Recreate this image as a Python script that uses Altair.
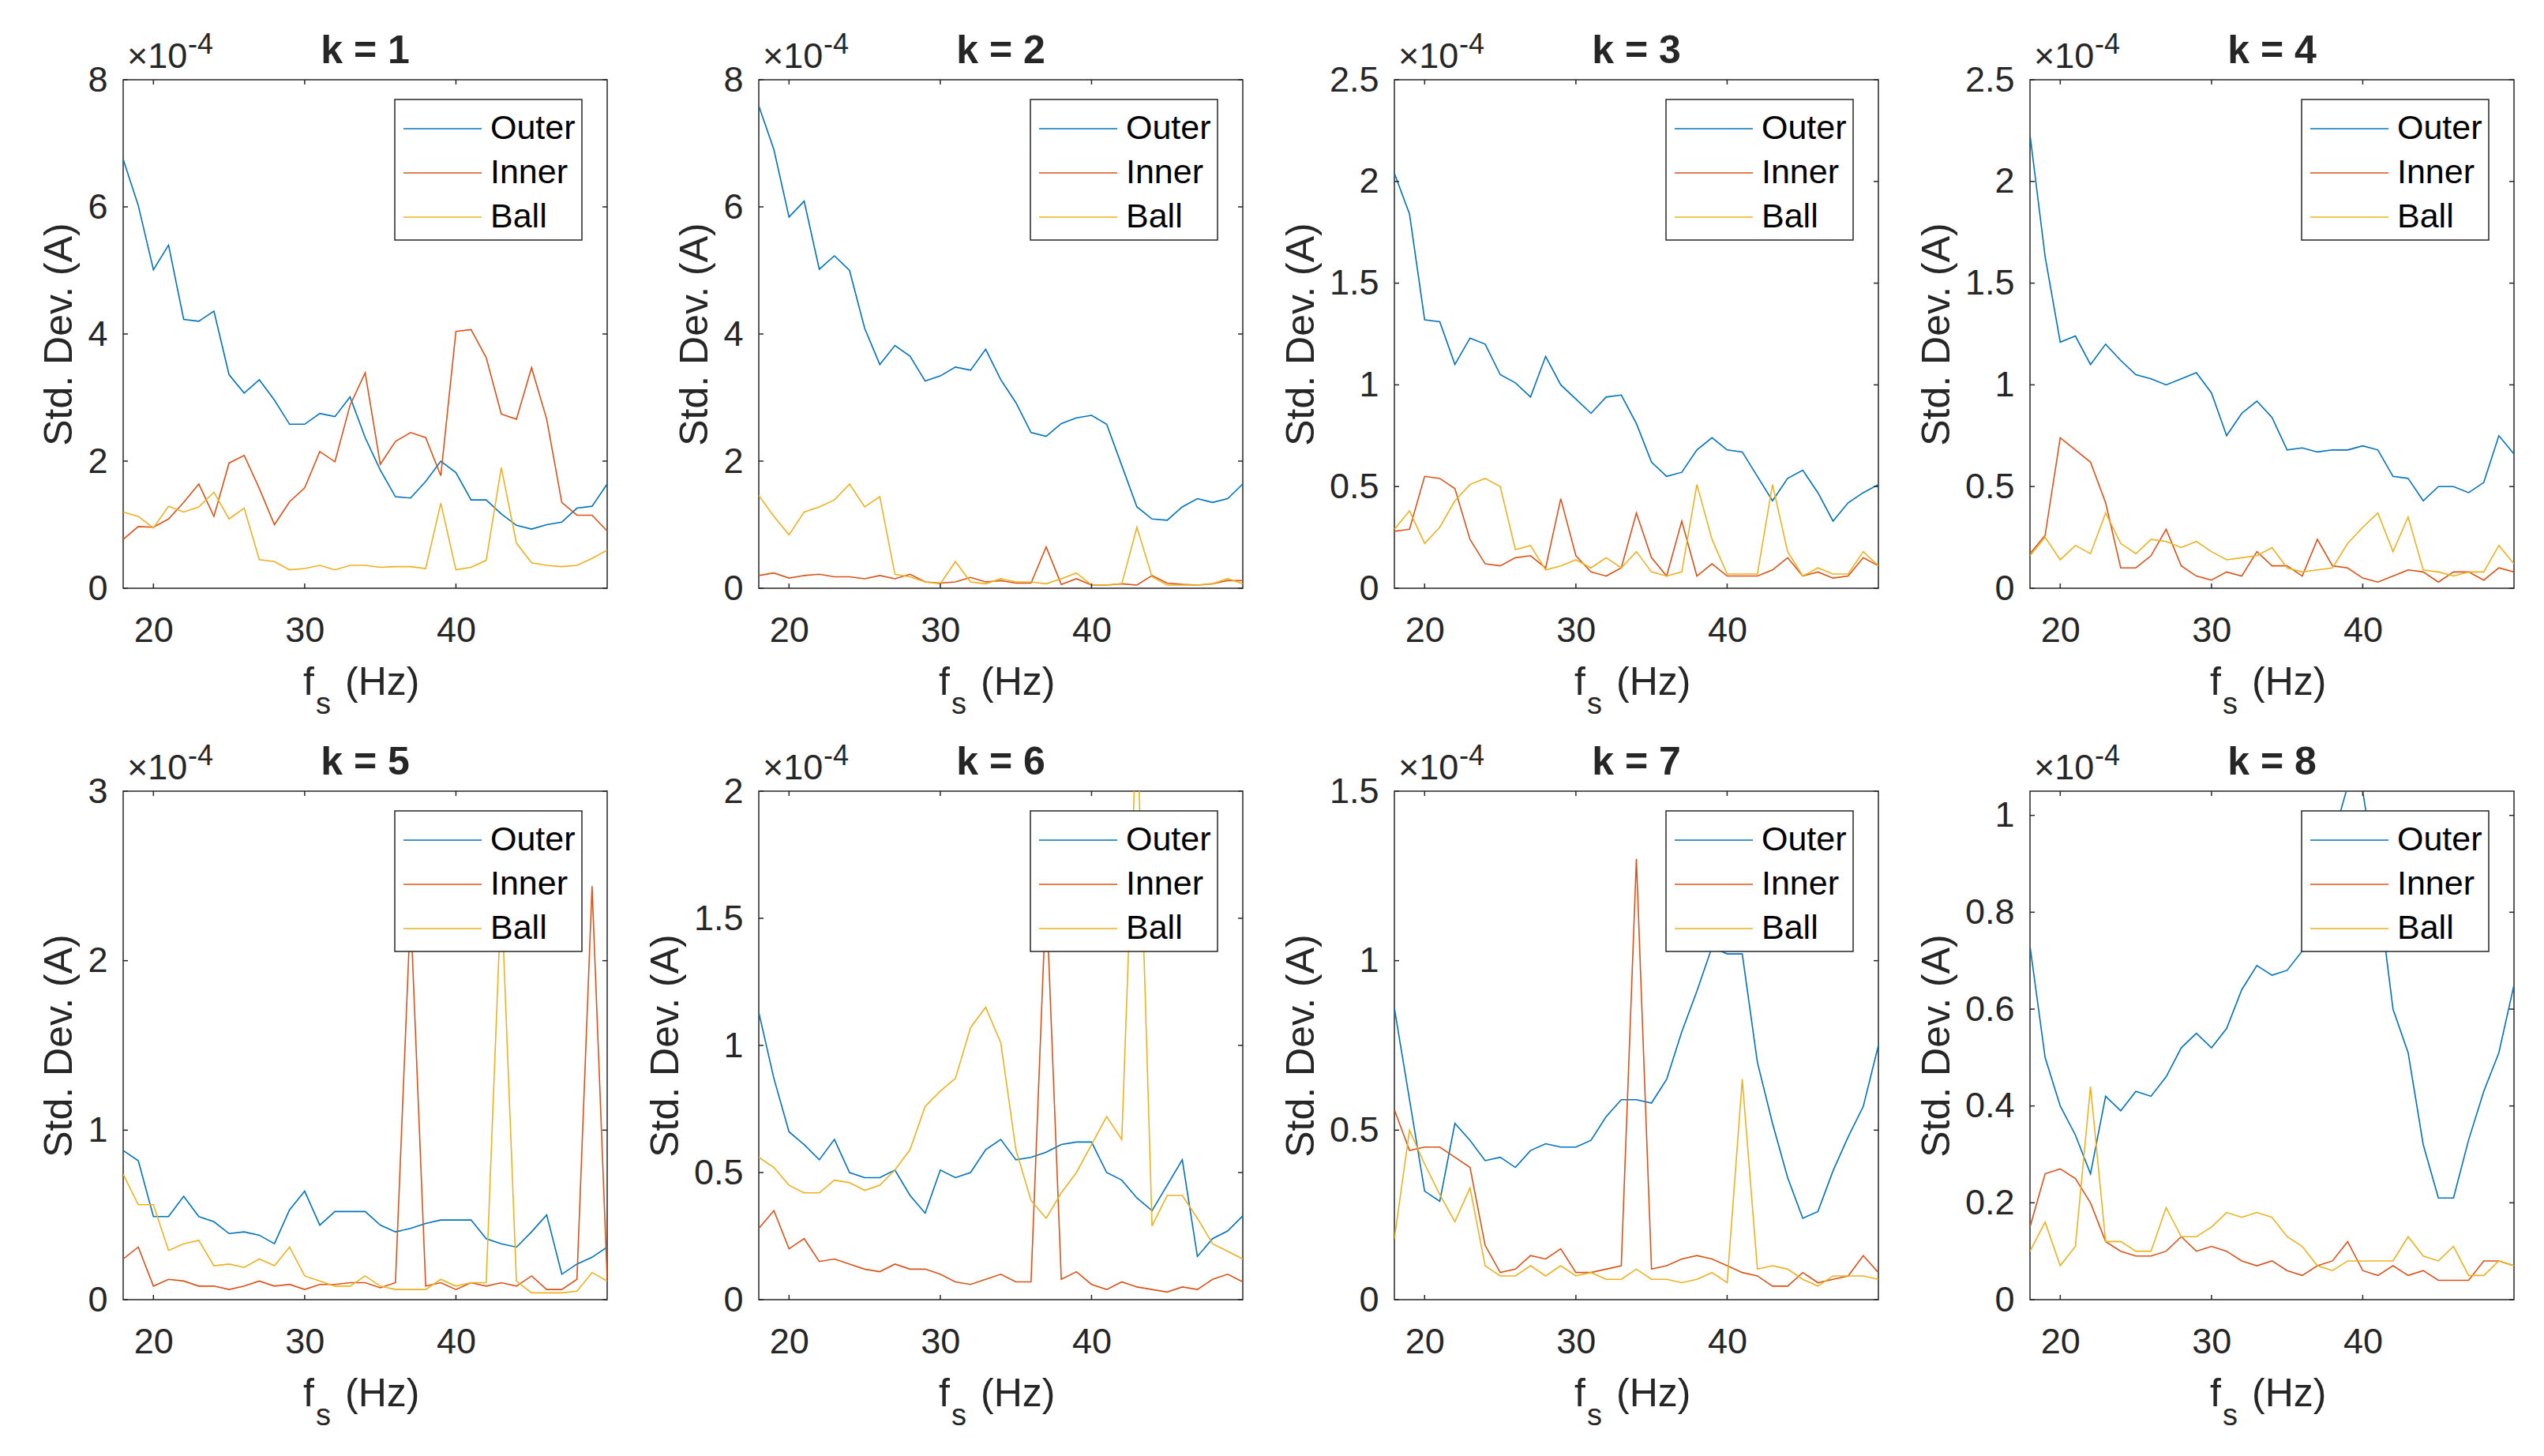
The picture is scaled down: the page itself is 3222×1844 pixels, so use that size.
import altair as alt
import pandas as pd

# shaft frequency axis (Hz)
fs_hz = list(range(18, 51))
series = ['Outer', 'Inner', 'Ball']
colors = ['#0072BD', '#D95319', '#EDB120']
x_ticks = [20, 30, 40]

# values in units of 1e-4 A
outer_1 = [6.75, 6.02, 5.01, 5.40, 4.23, 4.20, 4.36, 3.36, 3.07, 3.28, 2.96, 2.58, 2.58, 2.75, 2.70, 3.01, 2.37,
           1.86, 1.44, 1.42, 1.68, 2.00, 1.82, 1.39, 1.39, 1.17, 0.99, 0.93, 1.00, 1.04, 1.26, 1.29, 1.64]
inner_1 = [0.77, 0.97, 0.96, 1.09, 1.35, 1.64, 1.13, 1.97, 2.09, 1.57, 1.00, 1.36, 1.58, 2.15, 1.99, 2.88, 3.39,
           1.95, 2.31, 2.45, 2.37, 1.77, 4.04, 4.07, 3.63, 2.74, 2.66, 3.47, 2.66, 1.35, 1.15, 1.15, 0.90]
ball_1 = [1.20, 1.13, 0.95, 1.29, 1.20, 1.28, 1.51, 1.09, 1.26, 0.45, 0.42, 0.29, 0.31, 0.36, 0.29, 0.36, 0.36,
          0.33, 0.34, 0.34, 0.31, 1.34, 0.29, 0.33, 0.44, 1.90, 0.71, 0.40, 0.36, 0.34, 0.36, 0.47, 0.60]

outer_2 = [7.59, 6.90, 5.84, 6.09, 5.02, 5.23, 5.00, 4.09, 3.52, 3.82, 3.65, 3.26, 3.34, 3.48, 3.43, 3.76, 3.28,
           2.92, 2.45, 2.39, 2.59, 2.68, 2.72, 2.58, 1.93, 1.28, 1.09, 1.07, 1.28, 1.41, 1.35, 1.41, 1.64]
inner_2 = [0.20, 0.24, 0.16, 0.20, 0.22, 0.18, 0.18, 0.15, 0.20, 0.15, 0.22, 0.10, 0.08, 0.10, 0.17, 0.10, 0.12,
           0.08, 0.08, 0.65, 0.06, 0.15, 0.05, 0.05, 0.07, 0.05, 0.20, 0.08, 0.06, 0.05, 0.07, 0.12, 0.12]
ball_2 = [1.46, 1.13, 0.84, 1.20, 1.28, 1.39, 1.64, 1.28, 1.44, 0.22, 0.18, 0.10, 0.07, 0.42, 0.10, 0.07, 0.15,
          0.10, 0.10, 0.07, 0.15, 0.24, 0.05, 0.05, 0.07, 0.96, 0.18, 0.05, 0.05, 0.05, 0.07, 0.15, 0.07]

outer_3 = [2.04, 1.84, 1.32, 1.31, 1.10, 1.23, 1.20, 1.05, 1.01, 0.94, 1.14, 1.00, 0.93, 0.86, 0.94, 0.95, 0.81,
           0.62, 0.55, 0.57, 0.68, 0.74, 0.68, 0.67, 0.55, 0.43, 0.54, 0.58, 0.47, 0.33, 0.42, 0.47, 0.51]
inner_3 = [0.28, 0.29, 0.55, 0.54, 0.49, 0.24, 0.12, 0.11, 0.15, 0.16, 0.10, 0.44, 0.16, 0.08, 0.06, 0.10, 0.37,
           0.15, 0.06, 0.33, 0.06, 0.12, 0.06, 0.06, 0.06, 0.09, 0.15, 0.06, 0.08, 0.05, 0.06, 0.15, 0.11]
ball_3 = [0.29, 0.38, 0.22, 0.30, 0.43, 0.51, 0.54, 0.50, 0.19, 0.21, 0.09, 0.11, 0.14, 0.10, 0.15, 0.10, 0.18,
          0.08, 0.06, 0.08, 0.51, 0.24, 0.07, 0.07, 0.07, 0.51, 0.18, 0.06, 0.10, 0.07, 0.07, 0.18, 0.11]

outer_4 = [2.23, 1.63, 1.21, 1.24, 1.10, 1.20, 1.12, 1.05, 1.03, 1.00, 1.03, 1.06, 0.96, 0.75, 0.86, 0.92, 0.84,
           0.68, 0.69, 0.67, 0.68, 0.68, 0.70, 0.68, 0.55, 0.54, 0.43, 0.50, 0.50, 0.47, 0.52, 0.75, 0.66]
inner_4 = [0.17, 0.26, 0.74, 0.68, 0.62, 0.42, 0.10, 0.10, 0.16, 0.29, 0.11, 0.06, 0.04, 0.08, 0.06, 0.18, 0.11,
           0.11, 0.06, 0.24, 0.11, 0.10, 0.05, 0.03, 0.06, 0.09, 0.08, 0.03, 0.08, 0.08, 0.04, 0.10, 0.08]
ball_4 = [0.16, 0.25, 0.14, 0.21, 0.17, 0.37, 0.22, 0.17, 0.24, 0.23, 0.20, 0.23, 0.18, 0.14, 0.15, 0.16, 0.20,
          0.10, 0.08, 0.09, 0.10, 0.22, 0.30, 0.37, 0.18, 0.35, 0.09, 0.08, 0.06, 0.08, 0.08, 0.21, 0.12]

outer_5 = [0.88, 0.82, 0.49, 0.49, 0.61, 0.49, 0.46, 0.39, 0.40, 0.38, 0.33, 0.53, 0.64, 0.44, 0.52, 0.52, 0.52,
           0.44, 0.40, 0.42, 0.45, 0.47, 0.47, 0.47, 0.36, 0.33, 0.31, 0.40, 0.50, 0.15, 0.21, 0.25, 0.31]
inner_5 = [0.24, 0.31, 0.08, 0.12, 0.11, 0.08, 0.08, 0.06, 0.08, 0.11, 0.08, 0.09, 0.06, 0.09, 0.09, 0.10, 0.10,
           0.07, 0.10, 2.30, 0.08, 0.10, 0.06, 0.10, 0.08, 0.10, 0.08, 0.14, 0.06, 0.06, 0.12, 2.44, 0.12]
ball_5 = [0.74, 0.56, 0.56, 0.29, 0.33, 0.35, 0.20, 0.21, 0.19, 0.24, 0.20, 0.31, 0.14, 0.11, 0.08, 0.08, 0.14,
          0.08, 0.06, 0.06, 0.06, 0.12, 0.08, 0.10, 0.10, 2.40, 0.11, 0.04, 0.04, 0.04, 0.05, 0.16, 0.11]

outer_6 = [1.13, 0.87, 0.66, 0.61, 0.55, 0.63, 0.50, 0.48, 0.48, 0.51, 0.41, 0.34, 0.51, 0.48, 0.50, 0.59, 0.63,
           0.55, 0.56, 0.58, 0.61, 0.62, 0.62, 0.50, 0.47, 0.40, 0.35, 0.45, 0.55, 0.17, 0.24, 0.27, 0.33]
inner_6 = [0.28, 0.35, 0.20, 0.24, 0.15, 0.16, 0.14, 0.12, 0.11, 0.14, 0.12, 0.12, 0.10, 0.07, 0.06, 0.08, 0.10,
           0.07, 0.07, 1.60, 0.08, 0.11, 0.06, 0.04, 0.07, 0.05, 0.04, 0.03, 0.05, 0.04, 0.08, 0.10, 0.07]
ball_6 = [0.56, 0.52, 0.45, 0.42, 0.42, 0.47, 0.46, 0.43, 0.45, 0.51, 0.59, 0.76, 0.82, 0.87, 1.07, 1.15, 1.01,
          0.59, 0.39, 0.32, 0.42, 0.50, 0.61, 0.72, 0.63, 2.30, 0.29, 0.41, 0.41, 0.32, 0.22, 0.19, 0.16]

outer_7 = [0.86, 0.59, 0.32, 0.29, 0.52, 0.47, 0.41, 0.42, 0.39, 0.44, 0.46, 0.45, 0.45, 0.47, 0.54, 0.59, 0.59,
           0.58, 0.65, 0.79, 0.91, 1.04, 1.02, 1.02, 0.70, 0.52, 0.36, 0.24, 0.26, 0.38, 0.48, 0.57, 0.75]
inner_7 = [0.56, 0.44, 0.45, 0.45, 0.42, 0.39, 0.16, 0.08, 0.09, 0.13, 0.12, 0.15, 0.08, 0.08, 0.09, 0.10, 1.30,
           0.09, 0.10, 0.12, 0.13, 0.12, 0.10, 0.08, 0.07, 0.04, 0.04, 0.08, 0.05, 0.06, 0.07, 0.13, 0.08]
ball_7 = [0.18, 0.50, 0.40, 0.31, 0.23, 0.33, 0.10, 0.07, 0.07, 0.10, 0.07, 0.10, 0.07, 0.08, 0.06, 0.06, 0.09,
          0.06, 0.06, 0.05, 0.06, 0.08, 0.05, 0.65, 0.09, 0.10, 0.09, 0.06, 0.04, 0.07, 0.07, 0.07, 0.06]

outer_8 = [0.73, 0.50, 0.40, 0.34, 0.26, 0.42, 0.39, 0.43, 0.42, 0.46, 0.52, 0.55, 0.52, 0.56, 0.64, 0.69, 0.67,
           0.68, 0.72, 0.82, 0.95, 1.06, 1.05, 0.85, 0.60, 0.51, 0.32, 0.21, 0.21, 0.33, 0.43, 0.51, 0.65]
inner_8 = [0.15, 0.26, 0.27, 0.25, 0.20, 0.12, 0.10, 0.09, 0.09, 0.10, 0.13, 0.10, 0.11, 0.10, 0.08, 0.07, 0.08,
           0.06, 0.05, 0.07, 0.08, 0.12, 0.06, 0.05, 0.07, 0.05, 0.06, 0.04, 0.04, 0.04, 0.08, 0.08, 0.07]
ball_8 = [0.10, 0.16, 0.07, 0.11, 0.44, 0.12, 0.12, 0.10, 0.10, 0.19, 0.13, 0.13, 0.15, 0.18, 0.17, 0.18, 0.17,
          0.13, 0.11, 0.07, 0.06, 0.08, 0.08, 0.08, 0.08, 0.13, 0.09, 0.08, 0.11, 0.05, 0.05, 0.08, 0.07]

y_tops = [8, 8, 2.5, 2.5, 3, 2, 1.5, 1.05]
y_ticks = [
    [0, 2, 4, 6, 8],
    [0, 2, 4, 6, 8],
    [0, 0.5, 1, 1.5, 2, 2.5],
    [0, 0.5, 1, 1.5, 2, 2.5],
    [0, 1, 2, 3],
    [0, 0.5, 1, 1.5, 2],
    [0, 0.5, 1, 1.5],
    [0, 0.2, 0.4, 0.6, 0.8, 1],
]
all_outer = [outer_1, outer_2, outer_3, outer_4, outer_5, outer_6, outer_7, outer_8]
all_inner = [inner_1, inner_2, inner_3, inner_4, inner_5, inner_6, inner_7, inner_8]
all_ball = [ball_1, ball_2, ball_3, ball_4, ball_5, ball_6, ball_7, ball_8]

W, H = 613, 644
TICK = 6
INK = '#262626'
FONT = 'Liberation Sans'
one_row = pd.DataFrame({'a': [0]})


def label(text, x, y, size, align='left', weight='normal'):
    return alt.Chart(one_row).mark_text(
        text=text, font=FONT, fontSize=size, fontWeight=weight, color=INK,
        align=align, baseline='alphabetic'
    ).encode(x=alt.value(x), y=alt.value(y))


def make_panel(k, outer, inner, ball, y_top, yt_values):
    data = pd.DataFrame({'fs': fs_hz, 'Outer': outer, 'Inner': inner, 'Ball': ball})
    x_scale = alt.Scale(domain=[18, 50], nice=False, zero=False)
    y_scale = alt.Scale(domain=[0, y_top], nice=False, zero=False)

    x_axis = alt.Axis(values=x_ticks, title=None, grid=False, ticks=False, tickSize=0, domain=False,
                      labelFontSize=45, labelPadding=31, labelFlush=False, labelOverlap=False)
    y_axis = alt.Axis(values=yt_values, format='~g', title='Std. Dev. (A)', grid=False, ticks=False,
                      tickSize=0, domain=False, labelFontSize=45, labelPadding=20, labelFlush=False,
                      labelOverlap=False, titleFontSize=50, titleFontWeight='normal', titlePadding=10)

    # every layer carries the same axis definition so the shared axes merge cleanly
    layers = []
    for name, color in zip(series, colors):
        layers.append(alt.Chart(data).mark_line(color=color, strokeWidth=1.6, clip=True).encode(
            x=alt.X('fs:Q', scale=x_scale, axis=x_axis),
            y=alt.Y(f'{name}:Q', scale=y_scale, axis=y_axis),
        ))

    # inward ticks on all four sides, like a boxed MATLAB axes
    xt = alt.Chart(pd.DataFrame({'t': x_ticks}))
    yt = alt.Chart(pd.DataFrame({'t': yt_values}))
    tick = dict(color=INK, strokeWidth=1.5)
    layers += [
        xt.mark_rule(**tick).encode(x=alt.X('t:Q', scale=x_scale, axis=x_axis), y=alt.value(H), y2=alt.value(H - TICK)),
        xt.mark_rule(**tick).encode(x=alt.X('t:Q', scale=x_scale, axis=x_axis), y=alt.value(0), y2=alt.value(TICK)),
        yt.mark_rule(**tick).encode(y=alt.Y('t:Q', scale=y_scale, axis=y_axis), x=alt.value(0), x2=alt.value(TICK)),
        yt.mark_rule(**tick).encode(y=alt.Y('t:Q', scale=y_scale, axis=y_axis), x=alt.value(W - TICK), x2=alt.value(W)),
    ]

    # legend box
    layers.append(alt.Chart(one_row).mark_rect(fill='white', stroke=INK, strokeWidth=1.5).encode(
        x=alt.value(344), x2=alt.value(581), y=alt.value(25), y2=alt.value(203)))
    for i, (name, color) in enumerate(zip(series, colors)):
        row_y = 62 + 56 * i
        layers.append(alt.Chart(one_row).mark_rule(color=color, strokeWidth=1.6).encode(
            x=alt.value(355), x2=alt.value(454), y=alt.value(row_y)))
        layers.append(alt.Chart(one_row).mark_text(
            text=name, font=FONT, fontSize=43, color='black', align='left', baseline='middle'
        ).encode(x=alt.value(465), y=alt.value(row_y)))

    # title, exponent and x label with subscript
    layers += [
        label(f'k = {k}', W / 2, -21, 50, align='center', weight='bold'),
        label('\u00d710', 5, -15, 45),
        label('-4', 82, -33, 36),
        label('f', 228, H + 135, 50),
        label('s', 244, H + 159, 38),
        label('(Hz)', 281, H + 135, 50),
    ]
    return alt.layer(*layers).properties(width=W, height=H)


panels = [
    make_panel(i + 1, all_outer[i], all_inner[i], all_ball[i], y_tops[i], y_ticks[i])
    for i in range(8)
]

chart = alt.concat(
    *panels, columns=4, spacing={'row': 257, 'column': 192}, bounds='flush'
).properties(
    padding={'left': 42, 'top': 30, 'right': 10, 'bottom': 10}
).configure_view(
    stroke=INK, strokeWidth=1.5
).configure_axis(
    labelFont=FONT, titleFont=FONT, labelColor=INK, titleColor=INK
)

chart.save('out.html', embed_options={'renderer': 'svg', 'actions': False})
